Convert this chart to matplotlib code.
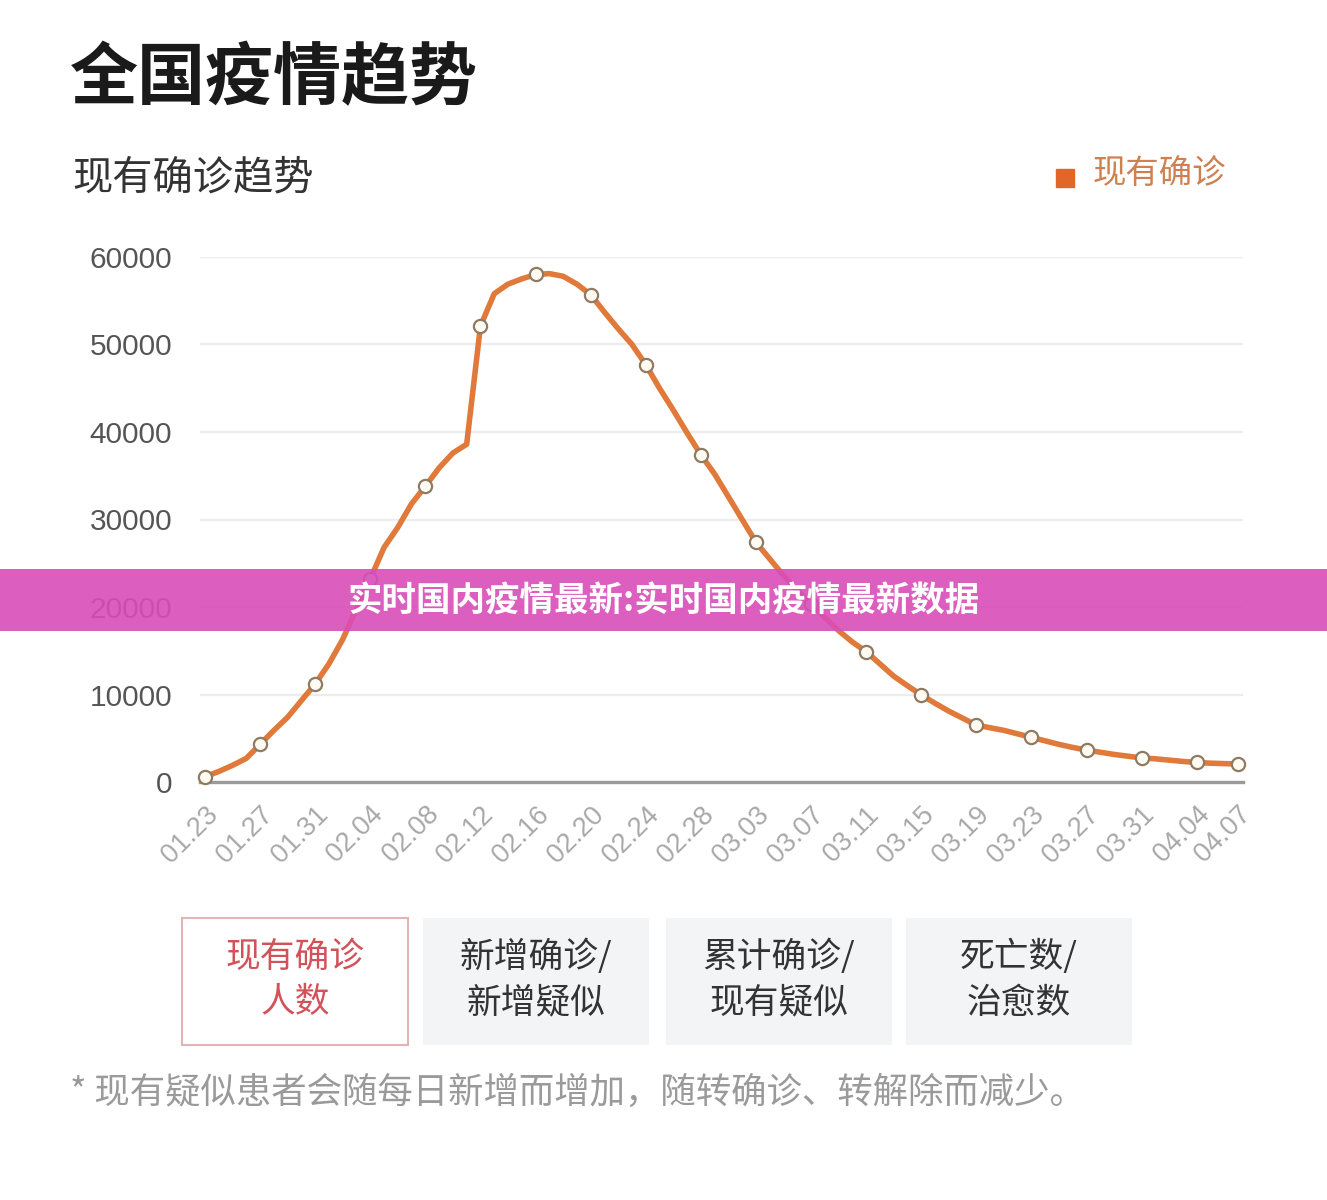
import numpy as np
import matplotlib
matplotlib.use("Agg")
from matplotlib import pyplot as plt
from matplotlib.patches import Rectangle, FancyBboxPatch

CJK = ["Noto Sans CJK SC", "DejaVu Sans"]
NUM = ["Liberation Sans", "DejaVu Sans"]
plt.rcParams["font.family"] = CJK

# daily dates 01.23 -> 04.07 (2020)
month_days = [(1, 23, 31), (2, 1, 29), (3, 1, 31), (4, 1, 7)]
dates = [f"{m:02d}.{d:02d}" for m, a, b in month_days for d in range(a, b + 1)]

# current confirmed cases
current = [
    600, 1200, 1900, 2700, 4300, 5900, 7400, 9300, 11200, 13500,
    16300, 19800, 23200, 26800, 29100, 31800, 33800, 35900, 37600, 38600,
    52100, 55800, 56900, 57500, 58000, 58100, 57800, 56900, 55700, 53700,
    51800, 50000, 47700, 45000, 42500, 39900, 37400, 35200, 32600, 30000,
    27400, 25500, 23600, 21900, 20300, 18800, 17300, 16000, 14900, 13500,
    12100, 11000, 9950, 9000, 8100, 7300, 6500, 6200, 5900, 5500,
    5100, 4700, 4300, 3950, 3650, 3400, 3150, 2950, 2750, 2650,
    2500, 2350, 2230, 2150, 2100, 2060,
]

# marker / tick days: every 4 days plus the last one
tick_idx = list(range(0, len(dates) - 1, 4)) + [len(dates) - 1]
tick_labels = [dates[i] for i in tick_idx]
y_ticks = [0, 10000, 20000, 30000, 40000, 50000, 60000]

buttons = [("现有确诊\n人数", True), ("新增确诊/\n新增疑似", False),
           ("累计确诊/\n现有疑似", False), ("死亡数/\n治愈数", False)]

W, H = 1327, 1200
fig = plt.figure(figsize=(W / 100, H / 100), dpi=100)


def fx(px):
    return px / W


def fy(py):
    return 1 - py / H


# plot area
ax = fig.add_axes([fx(200), fy(782), fx(1243) - fx(200), fy(257) - fy(782)])
x = np.arange(len(dates))
ax.plot(x, current, color="#e0793a", lw=4, solid_capstyle="round", zorder=3)
ax.plot(x[tick_idx], np.array(current)[tick_idx], ls="none", marker="o", ms=9.5,
        mfc="#fffaf2", mec="#8f7a62", mew=1.6, zorder=4, clip_on=False)

ax.set_xlim(-0.36, len(dates) - 1 + 0.36)
ax.set_ylim(0, 60000)
ax.set_yticks(y_ticks)
ax.set_yticklabels([str(v) for v in y_ticks], family=NUM, fontsize=21.5, color="#555555")
ax.set_xticks(tick_idx)
ax.set_xticklabels(tick_labels, family=NUM, fontsize=19.5, color="#a8a8a8",
                   rotation=45, ha="right", va="top", rotation_mode="anchor")
ax.tick_params(axis="y", length=0, pad=20)
ax.tick_params(axis="x", length=0, pad=14)
ax.grid(axis="y", color="#ececec", lw=1.6)
for side in ("top", "right", "left"):
    ax.spines[side].set_visible(False)
ax.spines["bottom"].set_color("#9a9a9a")
ax.spines["bottom"].set_linewidth(2.4)
ax.set_axisbelow(True)

# titles and legend
fig.text(fx(70), fy(80), "全国疫情趋势", fontsize=49, weight="bold", color="#1a1a1a",
         va="center", ha="left")
fig.text(fx(72), fy(178), "现有确诊趋势", fontsize=29, color="#333333", va="center", ha="left")
fig.patches.append(Rectangle((fx(1056), fy(187)), fx(18), fy(169) - fy(187),
                             transform=fig.transFigure, color="#e0662a"))
fig.text(fx(1093), fy(173), "现有确诊", fontsize=24, color="#cf8050", va="center", ha="left")

# buttons under the chart
lefts = [182, 423, 666, 906]
for (label, active), left in zip(buttons, lefts):
    if active:
        box = FancyBboxPatch((fx(left), fy(1045)), fx(226), fy(918) - fy(1045),
                             boxstyle="square,pad=0", transform=fig.transFigure,
                             facecolor="white", edgecolor="#e3b4b4", lw=1.5)
        col = "#d2525a"
    else:
        box = FancyBboxPatch((fx(left), fy(1045)), fx(226), fy(918) - fy(1045),
                             boxstyle="square,pad=0", transform=fig.transFigure,
                             facecolor="#f3f4f6", edgecolor="none")
        col = "#333333"
    fig.patches.append(box)
    fig.text(fx(left + 113), fy(980), label, fontsize=25, color=col,
             ha="center", va="center", linespacing=1.4)

fig.text(fx(70), fy(1093), "* 现有疑似患者会随每日新增而增加，随转确诊、转解除而减少。",
         fontsize=25.5, color="#9a9a9a", va="center", ha="left")

# overlay banner across the chart
fig.patches.append(Rectangle((0, fy(631)), 1, fy(569) - fy(631), transform=fig.transFigure,
                             facecolor="#d94db9", alpha=0.9, edgecolor="none", zorder=10))
fig.text(0.5, fy(601), "实时国内疫情最新:实时国内疫情最新数据", fontsize=24.8,
         weight="bold", color="white", ha="center", va="center", zorder=11)

fig.savefig("out.png", dpi=100, facecolor="white")
